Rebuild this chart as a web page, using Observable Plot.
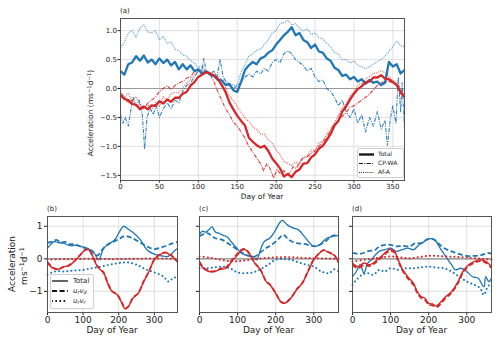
<!DOCTYPE html>
<html><head><meta charset="utf-8">
<script src="https://cdn.jsdelivr.net/npm/d3@7"></script>
<script src="https://cdn.jsdelivr.net/npm/@observablehq/plot@0.6"></script>
<style>
body{margin:0;background:#fff;font-family:"DejaVu Sans",sans-serif;}
#wrap{position:relative;width:500px;height:343px;overflow:hidden;background:#fff;}
.t{position:absolute;white-space:nowrap;color:#222;line-height:1;transform:translate(-50%,-50%);}
.tl{position:absolute;white-space:nowrap;color:#222;line-height:1;}
.rot{transform:translate(-50%,-50%) rotate(-90deg);}
sup{font-size:70%;vertical-align:0.45em;line-height:0;}
sub{font-size:70%;vertical-align:-0.25em;line-height:0;}
.leg{position:absolute;border:0.8px solid #cfcfcf;border-radius:2px;background:rgba(255,255,255,0.85);}
.row{display:flex;align-items:center;line-height:1;}
</style></head><body><div id="wrap"></div>
<script>
// ---------- DATA ----------
const xTicksMain = [0,50,100,150,200,250,300,350];
const yTicksMain = [-1.5,-1.0,-0.5,0,0.5,1.0];
const xTicksLow = [0,100,200,300];
const yTicksLow = [-1,0,1];
const legendMain = ["Total","CP-WA","Af-A"];
const panelLabels = ["(a)","(b)","(c)","(d)"];

// Panel (a): [day, value]
const aBlueTotal = [[0,0.30],[5,0.24],[10,0.42],[15,0.45],[20,0.56],[25,0.48],[30,0.57],[35,0.45],[40,0.50],[45,0.42],[50,0.52],[55,0.44],[60,0.50],[65,0.40],[70,0.46],[75,0.33],[80,0.42],[85,0.33],[90,0.40],[95,0.30],[100,0.33],[105,0.26],[110,0.30],[115,0.24],[120,0.22],[125,0.15],[130,0.14],[135,0.06],[140,0.08],[145,-0.03],[150,-0.06],[155,0.12],[160,0.32],[165,0.40],[170,0.46],[175,0.42],[180,0.52],[185,0.55],[190,0.62],[195,0.66],[200,0.76],[205,0.84],[210,0.92],[215,0.98],[220,1.06],[225,0.92],[230,0.96],[235,0.84],[240,0.80],[245,0.70],[250,0.76],[255,0.64],[260,0.62],[265,0.52],[270,0.48],[275,0.36],[280,0.32],[285,0.22],[290,0.24],[295,0.16],[300,0.20],[305,0.12],[310,0.16],[315,0.08],[320,0.15],[325,0.10],[330,0.12],[335,0.06],[340,0.10],[345,0.46],[350,0.38],[355,0.42],[360,0.26],[365,0.32]];
const aBlueAfA = [[0,0.70],[5,0.80],[10,0.95],[15,1.00],[20,0.88],[25,1.05],[30,1.10],[35,0.98],[40,0.96],[45,1.00],[50,0.84],[55,0.90],[60,0.78],[65,0.80],[70,0.68],[75,0.66],[80,0.58],[85,0.56],[90,0.48],[95,0.44],[100,0.36],[105,0.38],[110,0.28],[115,0.28],[120,0.22],[125,0.24],[130,0.14],[135,0.14],[140,0.08],[145,0.06],[150,0.06],[155,0.28],[160,0.42],[165,0.56],[170,0.60],[175,0.66],[180,0.68],[185,0.76],[190,0.84],[195,0.96],[200,1.00],[205,1.12],[210,1.14],[215,1.18],[220,1.10],[225,1.12],[230,1.04],[235,1.00],[240,1.03],[245,0.94],[250,0.96],[255,0.88],[260,0.86],[265,0.78],[270,0.72],[275,0.62],[280,0.60],[285,0.50],[290,0.50],[295,0.44],[300,0.48],[305,0.40],[310,0.38],[315,0.34],[320,0.38],[325,0.42],[330,0.46],[335,0.50],[340,0.56],[345,0.64],[350,0.72],[355,0.82],[360,0.74],[365,0.72]];
const aBlueCPWA = [[0,-0.45],[3,-0.6],[6,-0.5],[10,-0.65],[13,-0.4],[16,-0.15],[20,-0.3],[24,-0.2],[28,-0.45],[31,-1.05],[34,-0.5],[38,-0.35],[42,-0.45],[46,-0.3],[50,-0.5],[55,-0.35],[60,-0.25],[65,-0.35],[70,-0.2],[75,-0.25],[80,-0.05],[85,0.05],[90,0.1],[95,0.2],[100,0.3],[104,0.25],[107,0.52],[110,0.3],[115,0.25],[120,0.3],[124,0.2],[128,0.5],[132,0.2],[136,0.1],[140,0.05],[145,0.0],[150,0.05],[155,0.1],[160,0.2],[165,0.25],[170,0.2],[175,0.3],[180,0.25],[185,0.35],[190,0.3],[195,0.45],[200,0.5],[205,0.45],[210,0.6],[215,0.65],[220,0.6],[225,0.5],[230,0.45],[235,0.4],[240,0.3],[245,0.35],[250,0.2],[255,0.12],[260,0.15],[265,0.0],[270,-0.05],[275,-0.15],[280,-0.3],[285,-0.2],[290,-0.4],[295,-0.5],[300,-0.35],[305,-0.6],[310,-0.45],[315,-0.75],[320,-0.5],[325,-0.65],[330,-0.4],[335,-0.7],[340,-0.55],[343,-0.98],[347,-0.5],[350,-0.3],[354,-0.6],[357,0.2],[360,-0.4],[362,0.1],[365,-0.7]];
const aRedTotal = [[0,-0.12],[5,-0.18],[10,-0.20],[15,-0.27],[20,-0.28],[25,-0.36],[30,-0.31],[35,-0.36],[40,-0.29],[45,-0.30],[50,-0.22],[55,-0.26],[60,-0.19],[65,-0.23],[70,-0.16],[75,-0.16],[80,-0.09],[85,-0.06],[90,0.05],[95,0.11],[100,0.20],[105,0.24],[110,0.28],[115,0.26],[120,0.23],[125,0.17],[130,0.06],[135,-0.06],[140,-0.24],[145,-0.36],[150,-0.47],[155,-0.56],[160,-0.64],[165,-0.85],[170,-0.92],[175,-0.98],[180,-1.02],[185,-0.99],[190,-1.08],[195,-1.21],[200,-1.29],[205,-1.38],[210,-1.52],[215,-1.48],[220,-1.53],[225,-1.44],[230,-1.40],[235,-1.30],[240,-1.29],[245,-1.19],[250,-1.14],[255,-1.04],[260,-0.99],[265,-0.89],[270,-0.79],[275,-0.64],[280,-0.56],[285,-0.40],[290,-0.31],[295,-0.19],[300,-0.09],[305,-0.01],[310,0.04],[315,0.11],[320,0.12],[325,0.19],[330,0.19],[335,0.23],[340,0.17],[345,0.16],[350,0.11],[355,0.06],[360,-0.06],[365,-0.15]];
const aRedAfA = [[0,-0.05],[5,-0.16],[10,-0.08],[15,-0.22],[20,-0.14],[25,-0.27],[30,-0.34],[35,-0.28],[40,-0.38],[45,-0.24],[50,-0.31],[55,-0.14],[60,-0.21],[65,-0.09],[70,-0.06],[75,-0.08],[80,0.01],[85,0.09],[90,0.16],[95,0.24],[100,0.31],[105,0.34],[110,0.30],[115,0.28],[120,0.20],[125,0.16],[130,0.07],[135,0.01],[140,-0.12],[145,-0.21],[150,-0.31],[155,-0.41],[160,-0.51],[165,-0.57],[170,-0.66],[175,-0.71],[180,-0.79],[185,-0.79],[190,-0.89],[195,-0.94],[200,-1.06],[205,-1.14],[210,-1.26],[215,-1.29],[220,-1.33],[225,-1.27],[230,-1.31],[235,-1.19],[240,-1.16],[245,-1.07],[250,-1.06],[255,-0.94],[260,-0.91],[265,-0.79],[270,-0.71],[275,-0.59],[280,-0.46],[285,-0.34],[290,-0.26],[295,-0.14],[300,-0.06],[305,0.06],[310,0.09],[315,0.16],[320,0.21],[325,0.26],[330,0.27],[335,0.31],[340,0.27],[345,0.21],[350,0.14],[355,0.11],[360,-0.01],[365,-0.10]];
const aRedCPWA = [[0,-0.08],[5,-0.15],[10,-0.25],[15,-0.2],[20,-0.3],[25,-0.28],[30,-0.35],[35,-0.25],[40,-0.2],[45,-0.15],[50,-0.05],[55,0.0],[60,0.05],[65,-0.02],[70,0.05],[75,0.1],[80,0.12],[85,0.18],[90,0.2],[95,0.3],[100,0.33],[105,0.3],[110,0.28],[115,0.25],[120,0.12],[125,-0.05],[130,-0.2],[135,-0.35],[140,-0.45],[145,-0.58],[150,-0.65],[155,-0.75],[160,-0.86],[165,-1.0],[170,-1.1],[175,-1.2],[180,-1.3],[184,-1.42],[188,-1.3],[192,-1.38],[197,-1.55],[201,-1.4],[206,-1.48],[210,-1.42],[214,-1.5],[218,-1.45],[222,-1.35],[226,-1.38],[231,-1.25],[235,-1.2],[240,-1.18],[245,-1.12],[250,-1.08],[255,-1.0],[260,-0.92],[265,-0.85],[270,-0.72],[275,-0.62],[280,-0.55],[285,-0.48],[290,-0.42],[295,-0.32],[300,-0.3],[305,-0.25],[310,-0.2],[315,-0.15],[320,-0.1],[325,-0.02],[330,0.05],[335,0.1],[340,0.12],[345,0.12],[350,0.1],[355,0.05],[360,-0.1],[365,-0.15]];

// Panel (b)
const bBlueTot = [[0,0.33],[10,0.45],[18,0.53],[30,0.5],[46,0.48],[58,0.42],[69,0.4],[80,0.42],[92,0.38],[105,0.35],[120,0.28],[132,0.15],[144,-0.03],[150,0.1],[158,0.33],[176,0.48],[190,0.6],[200,0.79],[214,1.0],[228,0.9],[242,0.79],[261,0.58],[279,0.28],[298,0.15],[317,0.1],[335,0.07],[346,0.12],[354,0.22],[365,0.32]];
const bBlueDash = [[0,0.5],[12,0.52],[25,0.58],[38,0.5],[50,0.52],[62,0.45],[75,0.45],[88,0.4],[100,0.35],[112,0.3],[125,0.25],[140,0.1],[155,0.3],[170,0.45],[190,0.55],[203,0.62],[215,0.7],[235,0.65],[260,0.5],[285,0.35],[300,0.3],[320,0.35],[345,0.45],[365,0.52]];
const bBlueDot = [[0,-0.49],[20,-0.39],[50,-0.39],[75,-0.36],[100,-0.34],[125,-0.29],[150,-0.24],[175,-0.18],[200,-0.13],[225,-0.11],[250,-0.18],[275,-0.32],[300,-0.42],[325,-0.54],[340,-0.7],[352,-0.6],[365,-0.55]];
const bRedTot = [[0,-0.13],[15,-0.29],[30,-0.32],[45,-0.24],[60,-0.22],[75,-0.08],[90,0.09],[105,0.26],[115,0.28],[125,0.12],[140,-0.24],[158,-0.44],[167,-0.7],[181,-1.0],[195,-1.1],[209,-1.36],[218,-1.54],[227,-1.47],[240,-1.21],[255,-1.06],[270,-0.7],[285,-0.39],[300,-0.03],[315,0.12],[330,0.19],[345,0.12],[355,0.02],[365,-0.1]];
const bRedDash = [[0,-0.1],[15,-0.27],[30,-0.33],[45,-0.25],[60,-0.2],[75,-0.07],[90,0.1],[105,0.27],[115,0.29],[125,0.13],[140,-0.22],[158,-0.43],[167,-0.68],[181,-0.99],[195,-1.09],[209,-1.35],[218,-1.52],[227,-1.46],[240,-1.2],[255,-1.05],[270,-0.69],[285,-0.38],[300,-0.02],[315,0.13],[330,0.2],[345,0.13],[355,0.03],[365,-0.09]];
const bRedDot = [[0,-0.02],[60,-0.01],[120,0.0],[180,-0.01],[240,0.0],[300,0.01],[365,0.0]];

// Panel (c)
const cBlueTot = [[0,0.75],[8,0.85],[16,0.82],[25,0.9],[33,0.98],[42,0.82],[52,0.78],[62,0.72],[72,0.68],[85,0.5],[100,0.3],[110,0.17],[125,0.1],[140,0.07],[150,-0.03],[160,0.28],[170,0.53],[185,0.64],[200,0.89],[210,1.1],[218,1.18],[230,1.05],[245,0.95],[260,0.89],[275,0.69],[290,0.48],[300,0.38],[310,0.4],[320,0.48],[335,0.64],[350,0.69],[365,0.71]];
const cBlueDash = [[0,0.69],[20,0.79],[40,0.64],[60,0.58],[80,0.43],[100,0.28],[115,0.17],[130,0.09],[145,0.07],[160,0.2],[175,0.33],[190,0.43],[210,0.64],[220,0.74],[235,0.58],[255,0.48],[275,0.46],[295,0.4],[310,0.4],[330,0.53],[350,0.71],[365,0.71]];
const cBlueDot = [[0,-0.29],[20,-0.29],[40,-0.26],[60,-0.24],[80,-0.29],[100,-0.42],[120,-0.44],[140,-0.42],[160,-0.32],[180,-0.18],[200,-0.03],[220,-0.01],[240,-0.03],[260,-0.11],[280,-0.18],[300,-0.24],[320,-0.39],[340,-0.44],[355,-0.32],[365,-0.39]];
const cRedTot = [[0,-0.13],[10,-0.29],[25,-0.39],[40,-0.39],[55,-0.32],[70,-0.29],[85,-0.08],[100,0.12],[110,0.25],[120,0.28],[130,0.17],[145,-0.13],[160,-0.34],[175,-0.7],[185,-0.8],[200,-1.06],[215,-1.34],[225,-1.36],[240,-1.21],[255,-0.95],[270,-0.75],[285,-0.39],[300,-0.03],[315,0.17],[325,0.26],[340,0.19],[355,0.09],[365,-0.13]];
const cRedDash = [[0,-0.09],[10,-0.26],[25,-0.37],[40,-0.38],[55,-0.3],[70,-0.26],[85,-0.04],[100,0.16],[110,0.28],[120,0.3],[130,0.18],[145,-0.12],[160,-0.33],[175,-0.69],[185,-0.79],[200,-1.05],[215,-1.33],[225,-1.35],[240,-1.2],[255,-0.94],[270,-0.74],[285,-0.38],[300,-0.02],[315,0.18],[325,0.27],[340,0.2],[355,0.1],[365,-0.11]];
const cRedDot = [[0,0.07],[30,0.03],[60,-0.04],[90,-0.08],[120,-0.05],[150,0.0],[180,0.03],[210,0.05],[240,0.05],[270,0.03],[300,0.02],[330,0.01],[365,0.0]];

// Panel (d)
const dBlueTot = [[0,-0.55],[10,-0.39],[20,-0.18],[30,-0.44],[40,-0.13],[50,-0.03],[60,0.12],[70,0.23],[85,0.28],[100,0.33],[115,0.23],[130,0.28],[145,0.33],[160,0.28],[175,0.43],[190,0.54],[200,0.61],[215,0.59],[230,0.33],[245,0.07],[260,-0.18],[270,-0.34],[285,-0.29],[300,-0.39],[315,-0.55],[330,-0.6],[345,-0.86],[350,-0.55],[358,-0.7],[365,-0.6]];
const dBlueDash = [[0,0.18],[20,0.15],[40,0.23],[60,0.28],[70,0.38],[85,0.43],[100,0.43],[115,0.38],[130,0.4],[150,0.38],[165,0.48],[180,0.48],[195,0.59],[210,0.61],[225,0.48],[240,0.33],[260,0.23],[280,0.15],[300,0.09],[320,0.09],[340,0.12],[355,0.18],[365,0.15]];
const dBlueDot = [[0,-0.8],[10,-0.65],[25,-0.49],[40,-0.44],[55,-0.49],[70,-0.34],[85,-0.39],[100,-0.29],[120,-0.34],[140,-0.29],[160,-0.29],[180,-0.26],[200,-0.24],[220,-0.27],[240,-0.29],[260,-0.39],[280,-0.55],[300,-0.7],[320,-0.8],[335,-0.9],[345,-1.11],[355,-0.86],[365,-0.75]];
const dRedTot = [[0,-0.13],[15,-0.24],[30,-0.13],[45,-0.18],[60,-0.08],[75,0.07],[90,0.23],[100,0.3],[110,0.23],[120,-0.03],[130,-0.29],[145,-0.55],[160,-0.75],[170,-1.01],[180,-1.16],[190,-1.21],[200,-1.37],[210,-1.39],[220,-1.45],[230,-1.35],[245,-1.16],[260,-1.01],[275,-0.75],[290,-0.39],[305,-0.18],[320,-0.08],[335,-0.03],[350,-0.08],[365,-0.24]];
const dRedDash = [[0,-0.19],[15,-0.29],[30,-0.19],[45,-0.22],[60,-0.12],[75,0.03],[90,0.19],[100,0.25],[110,0.19],[120,-0.07],[130,-0.33],[145,-0.6],[160,-0.8],[170,-1.05],[180,-1.2],[190,-1.26],[200,-1.41],[210,-1.43],[220,-1.49],[230,-1.4],[245,-1.2],[260,-1.05],[275,-0.79],[290,-0.43],[305,-0.22],[320,-0.12],[335,-0.07],[350,-0.12],[365,-0.28]];
const dRedDot = [[0,-0.08],[50,0.0],[100,0.07],[150,0.02],[200,0.09],[250,0.07],[300,0.04],[365,-0.03]];

// ---------- STYLE ----------
const BLUE = "#1f77b4", RED = "#d62728";
const FONT = "DejaVu Sans";
const minus = d => d < 0 ? "\u2212" + Math.abs(d) : String(d);
const fmt1 = d => (d < 0 ? "\u2212" : "") + Math.abs(d).toFixed(1);
const X = d => d[0], Y = d => d[1];

function ln(data, stroke, width, dash, opacity, curve) {
  return Plot.line(data, {x: X, y: Y, stroke, strokeWidth: width, strokeDasharray: dash,
    strokeOpacity: opacity ?? 1, curve: curve || "linear", strokeLinejoin: "round",
    strokeLinecap: dash && dash.startsWith("0.1") ? "round" : "butt"});
}

const wrap = document.getElementById("wrap");
function put(el, left, top) { el.style.position = "absolute"; el.style.left = left + "px"; el.style.top = top + "px"; wrap.appendChild(el); }
function txt(html, x, y, size, cls) { const d = document.createElement("div"); d.className = cls || "t"; d.innerHTML = html; d.style.fontSize = size + "px"; put(d, x, y); return d; }

// ---------- PANEL (a) ----------
const mainPlot = Plot.plot({
  width: 500, height: 200, marginLeft: 120, marginRight: 96, marginTop: 18, marginBottom: 20,
  style: {fontFamily: FONT, fontSize: "7px", background: "transparent", color: "#222", overflow: "visible"},
  x: {domain: [0, 365], ticks: xTicksMain, tickSize: 2.5, tickPadding: 1, label: null},
  y: {domain: [-1.59, 1.21], ticks: yTicksMain, tickFormat: fmt1, tickSize: 2.5, tickPadding: 1, label: null},
  marks: [
    Plot.ruleX(xTicksMain, {x: d => d, stroke: "#dcdcdc", strokeWidth: 0.9}),
    Plot.ruleY(yTicksMain, {y: d => d, stroke: "#dcdcdc", strokeWidth: 0.9}),
    Plot.ruleY([0], {y: d => d, stroke: "#9a9a9a", strokeWidth: 1.2}),
    ln(aBlueAfA, BLUE, 1.2, "1,1.1", 0.7),
    ln(aRedAfA, RED, 1.2, "1,1.1", 0.7),
    ln(aBlueCPWA, BLUE, 1.1, "4,1.3,1,1.3", 0.9),
    ln(aRedCPWA, RED, 1.1, "4,1.3,1,1.3", 0.9),
    ln(aBlueTotal, BLUE, 2.3),
    ln(aRedTotal, RED, 2.3),
    Plot.frame({stroke: "#555", strokeWidth: 1})
  ]
});
put(mainPlot, 0, 0);

// ---------- LOWER PANELS ----------
function lower(cfg) {
  const C = "catmull-rom";
  return Plot.plot({
    width: cfg.w, height: 143, marginLeft: cfg.ml, marginRight: cfg.mr, marginTop: 16, marginBottom: 31,
    style: {fontFamily: FONT, fontSize: "9px", background: "transparent", color: "#222", overflow: "visible"},
    x: {domain: [0, 365], ticks: xTicksLow, tickSize: 3, tickPadding: 1, label: null},
    y: {domain: [-1.65, 1.3], ticks: yTicksLow, tickSize: 3, tickPadding: 2, label: null,
        tickFormat: cfg.showY ? minus : () => ""},
    marks: [
      Plot.ruleX(xTicksLow, {x: d => d, stroke: "#dcdcdc", strokeWidth: 0.9}),
      Plot.ruleY(yTicksLow, {y: d => d, stroke: "#dcdcdc", strokeWidth: 0.9}),
      Plot.ruleY([0], {y: d => d, stroke: "#8a8a8a", strokeWidth: 1.2}),
      ln(cfg.bd, BLUE, 2, "0.1,4", 1, C),
      ln(cfg.bs, BLUE, 1.8, "5,2.6", 1, C),
      ln(cfg.bt, BLUE, 1.3, null, 1, C),
      ln(cfg.rd, RED, 2, "0.1,4", 1, C),
      ln(cfg.rs, RED, 1.8, "5,2.6", 1, C),
      ln(cfg.rt, RED, 1.4, null, 1, C),
      Plot.frame({stroke: "#555", strokeWidth: 1})
    ]
  });
}
put(lower({w: 180, ml: 47, mr: 3, showY: true, bt: bBlueTot, bs: bBlueDash, bd: bBlueDot, rt: bRedTot, rs: bRedDash, rd: bRedDot}), 0, 200);
put(lower({w: 170, ml: 29, mr: 2, showY: false, bt: cBlueTot, bs: cBlueDash, bd: cBlueDot, rt: cRedTot, rs: cRedDash, rd: cRedDot}), 170, 200);
put(lower({w: 170, ml: 22, mr: 9, showY: false, bt: dBlueTot, bs: dBlueDash, bd: dBlueDot, rt: dRedTot, rs: dRedDash, rd: dRedDot}), 330, 200);

// ---------- TEXT ----------
txt(panelLabels[0], 120, 8, 7, "tl");
txt(panelLabels[1], 47, 206, 7, "tl");
txt(panelLabels[2], 199, 206, 7, "tl");
txt(panelLabels[3], 352, 206, 7, "tl");
txt("Day of Year", 262, 196.5, 7.5);
txt("Day of Year", 112, 329.5, 9);
txt("Day of Year", 268.5, 329.5, 9);
txt("Day of Year", 421.5, 329.5, 9);
txt("Acceleration (ms<sup>\u22121</sup>d<sup>\u22121</sup>)", 91, 113, 7.5, "t rot");
txt("Acceleration", 12, 264, 9, "t rot");
txt("ms<sup>\u22121</sup>d<sup>\u22121</sup>", 24, 266, 9, "t rot");

// ---------- LEGENDS ----------
function swatch(w, h, stroke, width, dash, cap) {
  return `<svg width="${w}" height="${h}" style="display:block"><line x1="0" x2="${w}" y1="${h/2}" y2="${h/2}" stroke="${stroke}" stroke-width="${width}" ${dash ? `stroke-dasharray="${dash}"` : ""} stroke-linecap="${cap || "butt"}"/></svg>`;
}
const legA = document.createElement("div");
legA.className = "leg";
legA.style.width = "45px"; legA.style.height = "28px";
legA.style.fontSize = "6px";
const stylesA = [[2.3, null], [1, "4,1.3,1,1.3"], [0.9, "1,1.1"]];
legA.innerHTML = legendMain.map((n, i) =>
  `<div class="row" style="position:absolute;left:1px;top:${1.5 + i * 9}px;height:7px">${swatch(15, 7, "#111", stylesA[i][0], stylesA[i][1])}<span style="margin-left:4px;color:#222">${n}</span></div>`).join("");
put(legA, 357, 148);

const legB = document.createElement("div");
legB.className = "leg";
legB.style.width = "42px"; legB.style.height = "33px";
legB.style.fontSize = "7px";
const labelsB = ["Total", "<i>u</i><sub><i>r</i></sub><i>v</i><sub><i>d</i></sub>", "<i>u</i><sub><i>r</i></sub><i>v</i><sub><i>r</i></sub>"];
const stylesB = [[1.3, null, "butt"], [2, "5,2.6", "butt"], [2, "0.1,4", "round"]];
legB.innerHTML = labelsB.map((n, i) =>
  `<div class="row" style="position:absolute;left:1px;top:${2 + i * 10}px;height:8px">${swatch(16, 8, "#111", stylesB[i][0], stylesB[i][1], stylesB[i][2])}<span style="margin-left:5px;color:#222">${n}</span></div>`).join("");
put(legB, 50, 274);
</script>
</body></html>
